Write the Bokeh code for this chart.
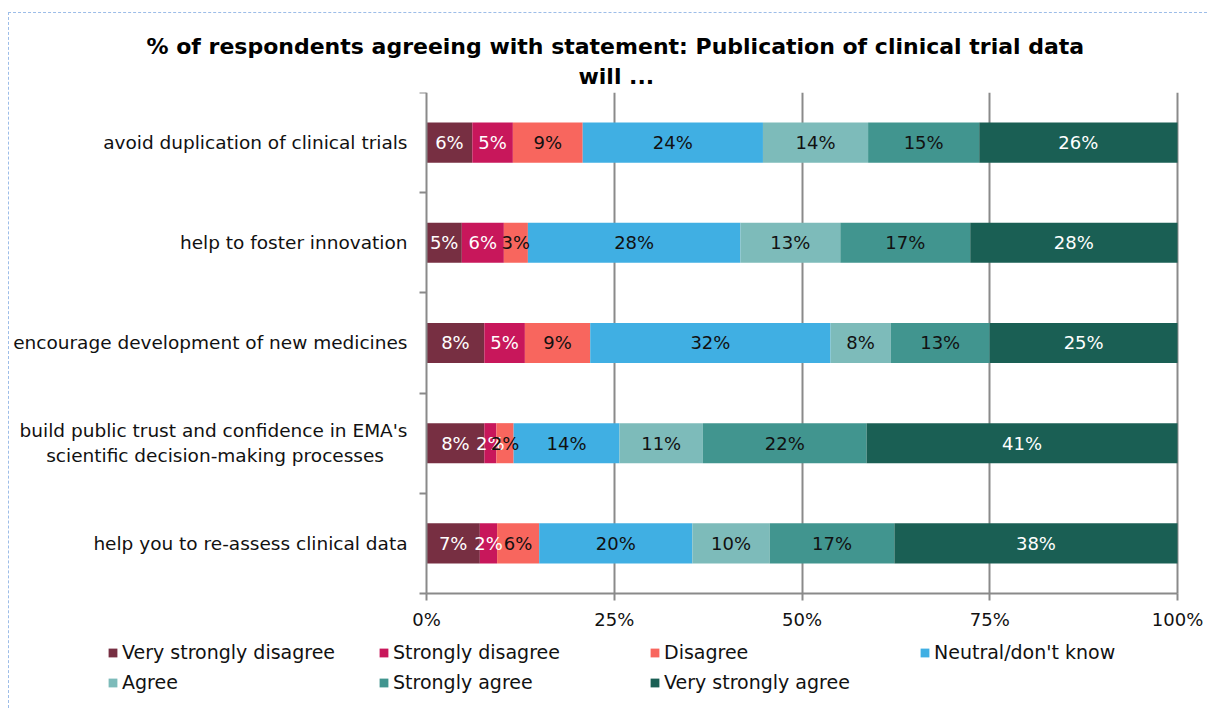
from bokeh.plotting import figure
from bokeh.models import (Range1d, FixedTicker, PrintfTickFormatter, Legend, LegendItem,
                          Title, ColumnDataSource)
from bokeh.core.properties import value
from bokeh.embed import file_html
from bokeh.resources import INLINE

# ---------------- data ----------------
categories = [
    "avoid duplication of clinical trials",
    "help to foster innovation",
    "encourage development of new medicines",
    "build public trust and confidence in EMA's\nscientific decision-making processes" + "\u00a0" * 4,
    "help you to re-assess clinical data",
]
series_names = ["Very strongly disagree", "Strongly disagree", "Disagree",
                "Neutral/don't know", "Agree", "Strongly agree", "Very strongly agree"]
very_strongly_disagree = [6.1, 4.7, 7.7, 7.7, 7.1]
strongly_disagree      = [5.4, 5.6, 5.4, 1.6, 2.3]
disagree               = [9.3, 3.2, 8.7, 2.3, 5.6]
neutral                = [24.0, 28.3, 32.0, 14.1, 20.4]
agree                  = [14.0, 13.3, 8.0, 11.1, 10.3]
strongly_agree         = [14.8, 17.3, 13.2, 21.8, 16.6]
very_strongly_agree    = [26.4, 27.6, 25.0, 41.4, 37.7]
x_ticks = [0, 25, 50, 75, 100]
title_lines = ["% of respondents agreeing with statement: Publication of clinical trial data",
               "will ..."]

series = [very_strongly_disagree, strongly_disagree, disagree, neutral,
          agree, strongly_agree, very_strongly_agree]

# ---------------- style ----------------
colors = ["#772F42", "#C8175B", "#F8665E", "#40AFE3", "#7DBBBA", "#41958F", "#1A5F54"]
label_colors = ["white", "white", "#111111", "#111111", "#111111", "#111111", "white"]
FONT = "DejaVu Sans"
GRID = "#8a8a8a"
FS = "18px"

n = len(categories)
y_pos = [n - 0.5 - i for i in range(n)]

# frame extended left/down/right so that labels and legend sit inside it;
# axes are pinned at the data origin
X0, X1 = -55.26, 103.86
Y0 = -1.068
p = figure(width=1199, height=696, output_backend="svg", toolbar_location=None,
           x_range=Range1d(X0, X1), y_range=Range1d(Y0, n),
           min_border_left=2, min_border_right=2, min_border_top=79, min_border_bottom=9)
p.styles = {"margin-top": "12px", "margin-left": "8px",
            "border-top": "1px dashed #9dbde8", "border-left": "1px dashed #9dbde8"}
p.outline_line_color = None
p.background_fill_color = "white"

# grid
p.ygrid.grid_line_color = None
p.xgrid.ticker = FixedTicker(ticks=x_ticks[1:])
p.xgrid.cross_bounds = (0, n)
p.xgrid.grid_line_color = GRID
p.xgrid.grid_line_width = 2

# x axis
xa = p.xaxis[0]
xa.fixed_location = 0
xa.bounds = (0, 100)
xa.ticker = FixedTicker(ticks=x_ticks)
xa.formatter = PrintfTickFormatter(format="%d%%")
xa.axis_line_color = GRID
xa.axis_line_width = 2
xa.major_tick_line_color = GRID
xa.major_tick_line_width = 2
xa.major_tick_out = 7
xa.major_tick_in = 0
xa.minor_tick_line_color = None
xa.major_label_text_font = FONT
xa.major_label_text_font_size = FS
xa.major_label_text_color = "#111111"
xa.major_label_standoff = 9

# y axis
ya = p.yaxis[0]
ya.fixed_location = 0
ya.bounds = (0, n)
ya.ticker = FixedTicker(ticks=y_pos, minor_ticks=list(range(n + 1)))
ya.major_label_overrides = {y: c for y, c in zip(y_pos, categories)}
ya.axis_line_color = GRID
ya.axis_line_width = 2
ya.major_tick_line_color = None
ya.minor_tick_line_color = GRID
ya.minor_tick_line_width = 2
ya.minor_tick_out = 7
ya.minor_tick_in = 0
ya.major_label_text_font = FONT
ya.major_label_text_font_size = "18.5px"
ya.major_label_text_color = "#111111"
ya.major_label_standoff = 12

# bars
renderers = []
left = [0.0] * n
lx, ly, lt, lc = [], [], [], []
for s_idx, vals in enumerate(series):
    right = [l + v for l, v in zip(left, vals)]
    src = ColumnDataSource(dict(y=y_pos, left=left, right=right))
    r = p.hbar(y="y", left="left", right="right", height=0.4, source=src,
               fill_color=colors[s_idx], line_color=None)
    renderers.append(r)
    for i in range(n):
        lx.append((left[i] + right[i]) / 2)
        ly.append(y_pos[i])
        lt.append(f"{round(vals[i])}%")
        lc.append(label_colors[s_idx])
    left = right

p.text(x="x", y="y", text="t", text_color="c",
       source=ColumnDataSource(dict(x=lx, y=ly, t=lt, c=lc)),
       text_font=value(FONT), text_font_size=FS,
       text_align="center", text_baseline="middle")

# titles (second line added first: nearest the frame)
p.title = None
p.add_layout(Title(text=title_lines[1], align="left", offset=567, standoff=7,
                   text_font=FONT, text_font_size="22px", text_font_style="bold",
                   text_color="#000000"), "above")
p.add_layout(Title(text=title_lines[0], align="left", offset=135, standoff=0,
                   text_font=FONT, text_font_size="22px", text_font_style="bold",
                   text_color="#000000"), "above")

# legends: four columns inside the (extended) frame
columns = [[0, 4], [1, 5], [2, 6], [3]]
col_x = [96, 367, 638, 908]
for col, cx in zip(columns, col_x):
    items = [LegendItem(label=series_names[k], renderers=[renderers[k]]) for k in col]
    bottom = 7 if len(col) == 2 else 37
    lg = Legend(items=items, location=(cx, bottom), orientation="vertical",
                padding=0, margin=0, spacing=8, label_height=22,
                glyph_width=11, glyph_height=11, label_standoff=4,
                label_text_font=FONT, label_text_font_size="19px",
                label_text_color="#111111",
                border_line_color=None, background_fill_alpha=0)
    p.add_layout(lg, "center")

open("out.html", "w").write(file_html(p, INLINE))
